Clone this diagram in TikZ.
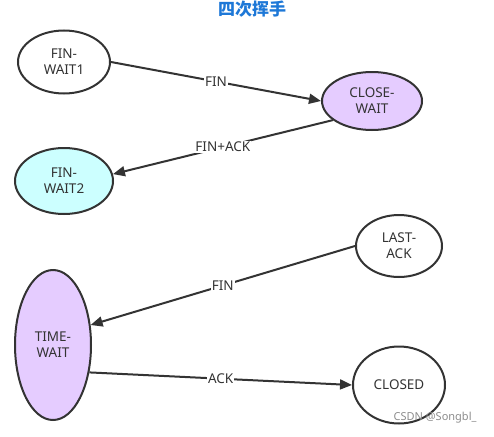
\documentclass[tikz,border=0pt]{standalone}
\usepackage{fontspec}
\setmainfont{Noto Sans}
\newfontfamily\cjk{Noto Sans CJK SC}
\usepackage{tikz}
\usetikzlibrary{positioning}
\usetikzlibrary{shapes.geometric}
\usetikzlibrary{arrows.meta}

\definecolor{titleblue}{RGB}{30,120,215}
\definecolor{lavender}{RGB}{229,204,255}
\definecolor{paleaqua}{RGB}{204,255,255}
\definecolor{ink}{RGB}{51,51,51}

\begin{document}
\begin{tikzpicture}[x=1pt, y=-1pt,
        state/.style={ellipse, draw=ink, line width=2pt, text=ink, align=center, inner sep=0pt, font=\fontsize{13.5}{16}\selectfont},
        msg/.style={-{Triangle[length=12pt, width=10pt]}, line width=2pt, draw=ink},
        lbl/.style={fill=white, inner sep=1pt, text=ink, font=\fontsize{13.5}{16}\selectfont}]
        \useasboundingbox (0,0) rectangle (494,436);

        \node [font=\cjk\bfseries\fontsize{17}{19}\selectfont, text=titleblue] (title) at (252,9) {四次挥手};

        \node [state, minimum width=92pt, minimum height=63pt] (fw1) at (64,62) {FIN-\\WAIT1};
        \node [state, minimum width=100pt, minimum height=58pt, fill=lavender] (cw) at (372,101) {CLOSE-\\WAIT};
        \node [state, minimum width=98pt, minimum height=66pt, fill=paleaqua] (fw2) at (64,181) {FIN-\\WAIT2};
        \node [state, minimum width=86pt, minimum height=62pt] (la) at (399,246) {LAST-\\ACK};
        \node [state, minimum width=76pt, minimum height=150pt, fill=lavender] (tw) at (53,345) {TIME-\\WAIT};
        \node [state, minimum width=92pt, minimum height=77pt] (cl) at (399,385) {CLOSED};

        \draw [msg] (fw1.east) -- (cw.west) node [lbl, midway] {FIN};
        \draw [msg] (cw.206) -- (fw2.8) node [lbl, midway] {FIN+ACK};
        \draw [msg] (la.west) -- (tw.28) node [lbl, midway] {FIN};
        \draw [msg] (tw.-37) -- (cl.west) node [lbl, midway] {ACK};

        %watermark
        \node [text=black!45, font=\fontsize{11}{13}\selectfont, anchor=east] (mark) at (480,418) {CSDN @Songbl\_};
    \end{tikzpicture}
\end{document}
